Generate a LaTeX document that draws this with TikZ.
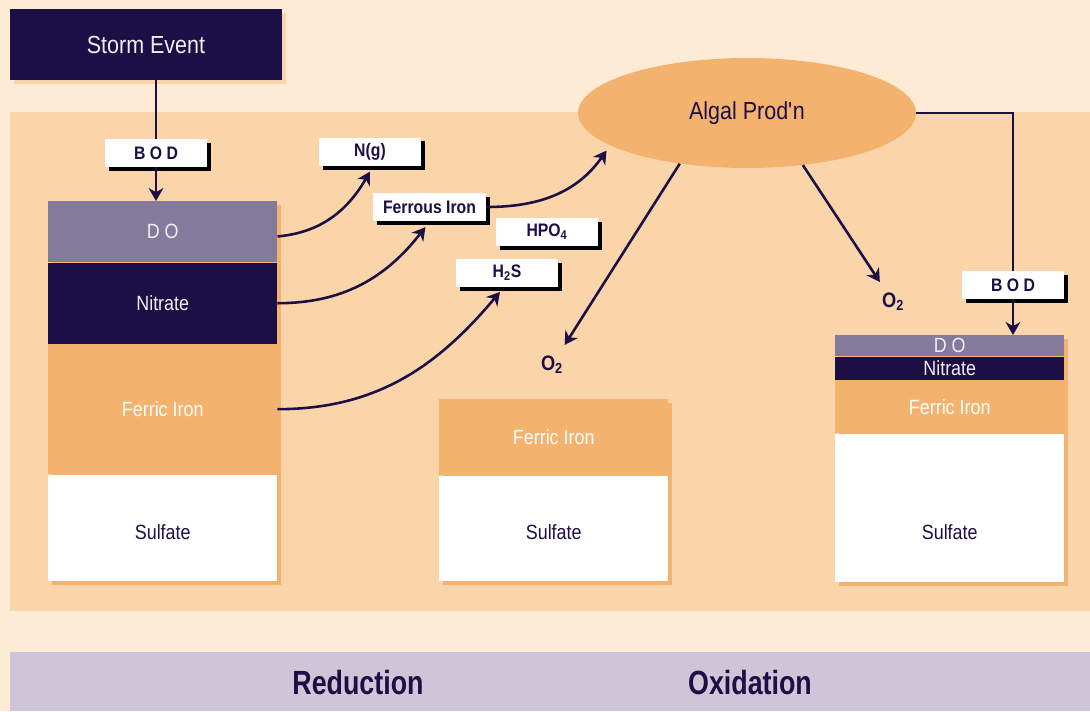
\documentclass[tikz,border=0pt]{standalone}
\usepackage{fontspec}
\setmainfont{Liberation Sans}[FakeStretch=0.87]
\newfontfamily\titlefont{Liberation Sans}[FakeStretch=0.80]
\usetikzlibrary{arrows.meta,positioning,shapes.geometric,backgrounds}
\definecolor{creambg}{HTML}{FDEBD6}
\definecolor{peachpanel}{HTML}{FAD5AA}
\definecolor{navy}{HTML}{1C0F45}
\definecolor{lilac}{HTML}{837A9C}
\definecolor{ferric}{HTML}{F3B36E}
\definecolor{barlilac}{HTML}{CEC6D8}
\definecolor{paletext}{HTML}{F2ECF4}

\begin{document}
\begin{tikzpicture}[x=0.85pt,y=-0.85pt,
    layer/.style = {inner sep=0pt,minimum width=194.65pt,font=\fontsize{17.5}{20}\selectfont},
    tag/.style   = {fill=white,inner sep=0pt,minimum width=86.7pt,minimum height=23.8pt,
                    text=navy,font=\fontsize{15.4}{18}\selectfont\bfseries},
    oxy/.style   = {text=navy,font=\fontsize{17.8}{20}\selectfont\bfseries},
    wire/.style  = {line width=2.2pt,navy},
    flow/.style  = {-{Stealth[length=11pt,width=12.5pt,inset=3.5pt]},line width=2.2pt,navy},
  ]
  \useasboundingbox (0,0) rectangle (1090,711);

  % ── Storm event and algae ──────────────────────────────────────────────────
  \node[fill=navy,text=paletext,inner sep=0pt,minimum width=231.2pt,minimum height=60.35pt,
        font=\fontsize{21}{24}\selectfont] (storm) at (146,44.5) {Storm Event};
  \node[ellipse,fill=ferric,text=navy,inner sep=0pt,minimum width=287.3pt,minimum height=93.5pt,
        font=\fontsize{21}{24}\selectfont] (alg) at (747,113) {Algal Prod\textquotesingle n};

  % ── Reduction column (left) ────────────────────────────────────────────────
  \node[layer,anchor=north west,fill=lilac,text=paletext,minimum height=51.85pt] (dol) at (48,201) {D O};
  \node[layer,below=0pt of dol,fill=navy,text=paletext,minimum height=68.85pt] (nitl) {Nitrate};
  \node[layer,below=0pt of nitl,fill=ferric,text=white,minimum height=110.5pt] (ferl) {Ferric Iron};
  \node[layer,below=0pt of ferl,fill=white,text=navy,minimum height=90.1pt,
        text height=20pt,text depth=0pt] (sull) {Sulfate};

  % ── Middle column ──────────────────────────────────────────────────────────
  \node[layer,anchor=north west,fill=ferric,text=white,minimum height=64.6pt] (ferm) at (439,399) {Ferric Iron};
  \node[layer,below=0pt of ferm,fill=white,text=navy,minimum height=89.25pt,
        text height=20pt,text depth=0pt] (sulm) {Sulfate};

  % ── Oxidation column (right) ───────────────────────────────────────────────
  \node[layer,anchor=north west,fill=lilac,text=paletext,minimum height=17.85pt] (dor) at (835,335) {D O};
  \node[layer,below=0pt of dor,fill=navy,text=paletext,minimum height=19.55pt] (nitr) {Nitrate};
  \node[layer,below=0pt of nitr,fill=ferric,text=white,minimum height=45.05pt] (ferr) {Ferric Iron};
  \node[layer,below=0pt of ferr,fill=white,text=navy,minimum height=125.8pt,
        text height=54pt,text depth=0pt] (sulr) {Sulfate};

  % ── Tags ───────────────────────────────────────────────────────────────────
  \node[tag] (bodl) at (156,153) {B O D};
  \node[tag] (ng) at (370,151.5) {N(g)};
  \node[tag,minimum width=96pt] (ferrous) at (429.5,207) {Ferrous Iron};
  \node[tag] (hpo) at (547,232) {HPO\textsubscript{4}};
  \node[tag] (hts) at (507,273) {H\textsubscript{2}S};
  \node[tag] (bodr) at (1013,285) {B O D};
  \node[oxy] (oxl) at (552,365) {O\textsubscript{2}};
  \node[oxy] (oxr) at (893,302) {O\textsubscript{2}};

  % ── Bottom bar ─────────────────────────────────────────────────────────────
  \node[text=navy,font=\titlefont\fontsize{28.5}{30}\selectfont\bfseries] (red) at (358,683) {Reduction};
  \node[text=navy,font=\titlefont\fontsize{28.5}{30}\selectfont\bfseries] (oxi) at (750,683) {Oxidation};

  % ── Connectors ─────────────────────────────────────────────────────────────
  \draw[wire] (storm.south -| bodl.north) -- (bodl.north);
  \draw[flow] (bodl.south) -- (dol.north -| bodl.south);
  \draw[flow] ([yshift=-4pt]dol.east) to[out=5,in=-120] ([yshift=-5pt]ng.south);
  \draw[flow] (nitl.east) to[out=0,in=-128] ([xshift=-3.5pt,yshift=-5pt]ferrous.south);
  \draw[flow] (ferl.east) to[out=0,in=-130] ([xshift=-6pt,yshift=-4pt]hts.south);
  \draw[flow] (ferrous.east) to[out=0,in=-125] ([shift={(-6,4)}]alg.-166);
  \draw[flow,shorten >=7pt] (alg.-143) -- (oxl);
  \draw[flow,shorten >=7pt] (alg.-43) -- (oxr);
  \draw[wire] (alg.east) -| (bodr.north);
  \draw[flow] (bodr.south) -- (bodr.south |- dor.north);

  % ── Panels and shadows ─────────────────────────────────────────────────────
  \begin{scope}[on background layer]
    \fill[creambg] (0,0) rectangle (1090,711);
    \fill[peachpanel] (10,112) rectangle (1090,611);
    \fill[barlilac] (10,652) rectangle (1090,711);
    \fill[peachpanel] ([shift={(4,4)}]storm.north west) rectangle ([shift={(4,4)}]storm.south east);
    \foreach \t/\b in {dol/sull, ferm/sulm, dor/sulr}
      \fill[ferric] ([shift={(4,4)}]\t.north west) rectangle ([shift={(4,4)}]\b.south east);
    \foreach \n in {bodl,ng,ferrous,hpo,hts,bodr}
      \fill[black] ([shift={(4,4)}]\n.north west) rectangle ([shift={(4,4)}]\n.south east);
  \end{scope}

\end{tikzpicture}
\end{document}
